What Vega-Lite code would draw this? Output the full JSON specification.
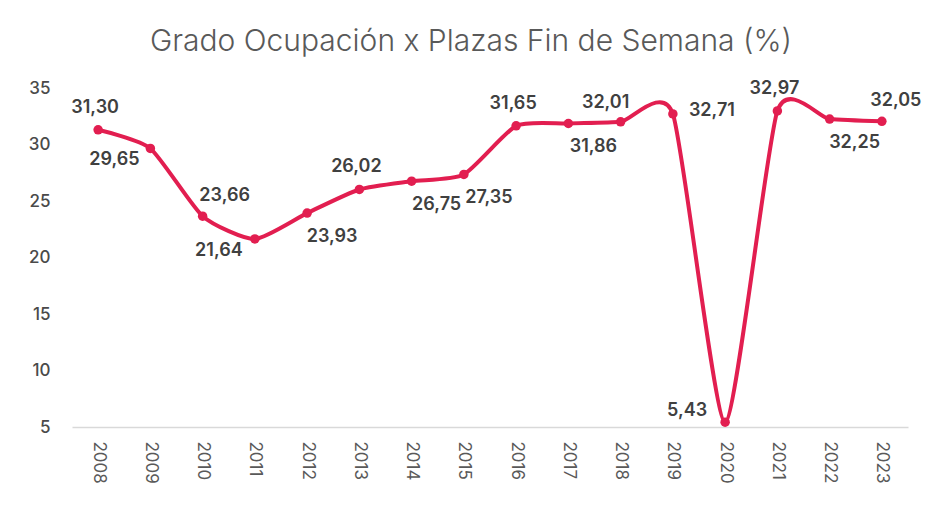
{
  "$schema": "https://vega.github.io/schema/vega-lite/v6.json",
  "autosize": "none",
  "width": 836,
  "height": 339,
  "padding": {"left": 72, "top": 88, "right": 17, "bottom": 81},
  "background": "white",
  "title": {
    "text": "Grado Ocupación x Plazas Fin de Semana (%)",
    "font": "Inter",
    "fontSize": 30,
    "fontWeight": 300,
    "color": "#595959",
    "anchor": "middle",
    "dx": -19,
    "offset": 22
  },
  "config": {
    "view": {"stroke": null},
    "font": "Inter"
  },
  "data": {
    "values": [
      {"year": "2008", "value": 31.30, "label": "31,30"},
      {"year": "2009", "value": 29.65, "label": "29,65"},
      {"year": "2010", "value": 23.66, "label": "23,66"},
      {"year": "2011", "value": 21.64, "label": "21,64"},
      {"year": "2012", "value": 23.93, "label": "23,93"},
      {"year": "2013", "value": 26.02, "label": "26,02"},
      {"year": "2014", "value": 26.75, "label": "26,75"},
      {"year": "2015", "value": 27.35, "label": "27,35"},
      {"year": "2016", "value": 31.65, "label": "31,65"},
      {"year": "2017", "value": 31.86, "label": "31,86"},
      {"year": "2018", "value": 32.01, "label": "32,01"},
      {"year": "2019", "value": 32.71, "label": "32,71"},
      {"year": "2020", "value": 5.43, "label": "5,43"},
      {"year": "2021", "value": 32.97, "label": "32,97"},
      {"year": "2022", "value": 32.25, "label": "32,25"},
      {"year": "2023", "value": 32.05, "label": "32,05"}
    ]
  },
  "encoding": {
    "x": {
      "field": "year",
      "type": "ordinal",
      "scale": {"type": "point", "padding": 0.5},
      "axis": {
        "title": null,
        "labelAngle": 90,
        "labelAlign": "left",
        "labelBaseline": "middle",
        "labelFontSize": 17,
        "labelFont": "Inter",
        "labelColor": "#595959",
        "labelPadding": 14,
        "ticks": false,
        "domainColor": "#d9d9d9",
        "domainWidth": 1.5,
        "grid": false
      }
    },
    "y": {
      "field": "value",
      "type": "quantitative",
      "scale": {"domain": [5, 35], "nice": false, "zero": false},
      "axis": {
        "title": null,
        "values": [5, 10, 15, 20, 25, 30, 35],
        "labelFontSize": 17,
        "labelFontWeight": 500,
        "labelColor": "#4a4a4a",
        "labelPadding": 22,
        "ticks": false,
        "domain": false,
        "grid": false
      }
    }
  },
  "layer": [
    {"mark": {"type": "line", "interpolate": "cardinal", "tension": 0.4, "color": "#E21E50", "strokeWidth": 4, "strokeCap": "round"}},
    {"mark": {"type": "point", "filled": true, "opacity": 1, "color": "#E21E50", "size": 90}},
    {
      "transform": [{"filter": {"field": "year", "oneOf": ["2008", "2013", "2016", "2021"]}}],
      "mark": {"type": "text", "dx": -3, "dy": -22, "fontSize": 18, "fontWeight": 600, "color": "#404040"},
      "encoding": {"text": {"field": "label"}}
    },
    {
      "transform": [{"filter": {"field": "year", "oneOf": ["2010"]}}],
      "mark": {"type": "text", "dx": 22, "dy": -20, "fontSize": 18, "fontWeight": 600, "color": "#404040"},
      "encoding": {"text": {"field": "label"}}
    },
    {
      "transform": [{"filter": {"field": "year", "oneOf": ["2023"]}}],
      "mark": {"type": "text", "dx": 14, "dy": -20, "fontSize": 18, "fontWeight": 600, "color": "#404040"},
      "encoding": {"text": {"field": "label"}}
    },
    {
      "transform": [{"filter": {"field": "year", "oneOf": ["2018"]}}],
      "mark": {"type": "text", "dx": -15, "dy": -19, "fontSize": 18, "fontWeight": 600, "color": "#404040"},
      "encoding": {"text": {"field": "label"}}
    },
    {
      "transform": [{"filter": {"field": "year", "oneOf": ["2009", "2011"]}}],
      "mark": {"type": "text", "dx": -36, "dy": 12, "fontSize": 18, "fontWeight": 600, "color": "#404040"},
      "encoding": {"text": {"field": "label"}}
    },
    {
      "transform": [{"filter": {"field": "year", "oneOf": ["2012", "2014", "2015", "2017", "2022"]}}],
      "mark": {"type": "text", "dx": 25, "dy": 24, "fontSize": 18, "fontWeight": 600, "color": "#404040"},
      "encoding": {"text": {"field": "label"}}
    },
    {
      "transform": [{"filter": {"field": "year", "oneOf": ["2019"]}}],
      "mark": {"type": "text", "dx": 39, "dy": -3, "fontSize": 18, "fontWeight": 600, "color": "#404040"},
      "encoding": {"text": {"field": "label"}}
    },
    {
      "transform": [{"filter": {"field": "year", "oneOf": ["2020"]}}],
      "mark": {"type": "text", "dx": -38, "dy": -11, "fontSize": 18, "fontWeight": 600, "color": "#404040"},
      "encoding": {"text": {"field": "label"}}
    }
  ]
}
